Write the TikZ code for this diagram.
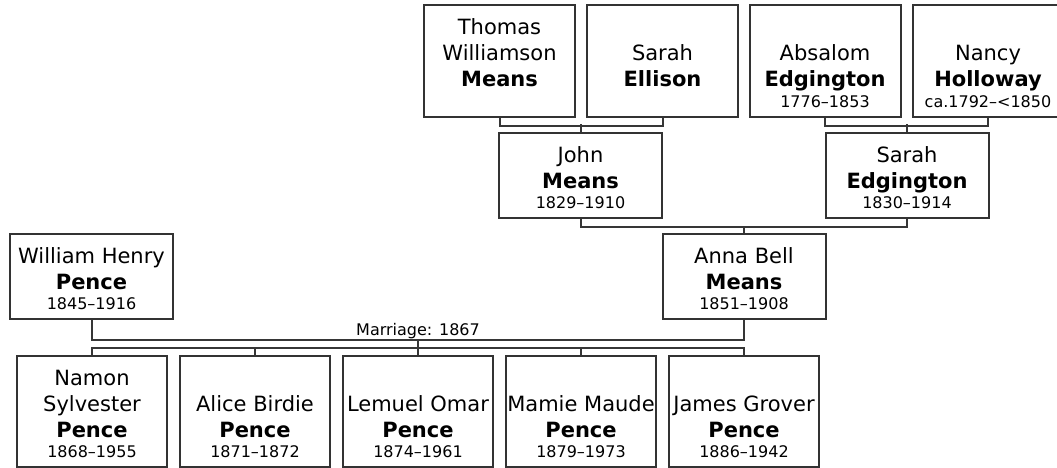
\documentclass[tikz,border=0pt]{standalone}
\usepackage{fontspec}
\setmainfont{DejaVu Sans}
\usetikzlibrary{calc}
\definecolor{boxline}{HTML}{333333}
\definecolor{conline}{HTML}{363636}
\tikzset{
  pbox/.style={draw=boxline, line width=2pt, fill=white, inner sep=0pt},
  topbox/.style={pbox, minimum width=151, minimum height=112},
  midbox/.style={pbox, minimum width=163, minimum height=85},
  kidbox/.style={pbox, minimum width=150, minimum height=111},
  namet/.style={anchor=base, inner sep=0pt, font=\fontsize{21}{26}\selectfont, text=black},
  datet/.style={anchor=base, inner sep=0pt, font=\fontsize{16}{19}\selectfont, text=black},
  con/.style={draw=conline, line width=2pt},
}
\newcommand\who[3]{%
  \node[namet] (#1-n) at ($(#1.south)+(0,-31)$) {\setlength{\tabcolsep}{0pt}\begin{tabular}[b]{c}#2\end{tabular}};
  \if\relax\detokenize{#3}\relax\else
  \node[datet] (#1-d) at ($(#1.south)+(0,-10.5)$) {#3};\fi}
\begin{document}
\begin{tikzpicture}[x=1pt,y=-1pt]
\fill[white] (0,0) rectangle (1057,468);
\useasboundingbox (0,0) rectangle (1057,468);
\clip (0,0) rectangle (1057,468);
% boxes
\node[topbox] (thomas) at (499.5,61) {};
\node[topbox] (sarahel) at (662.5,61) {};
\node[topbox] (absalom) at (825,61) {};
\node[topbox] (nancy) at (988,61) {};
\node[midbox] (john) at (580.5,175.5) {};
\node[midbox] (sarahed) at (907,175.5) {};
\node[midbox] (anna) at (744,276.5) {};
\node[midbox] (william) at (91.5,276.5) {};
\node[kidbox] (namon) at (92,411.5) {};
\node[kidbox] (alice) at (255,411.5) {};
\node[kidbox] (lemuel) at (418,411.5) {};
\node[kidbox] (mamie) at (581,411.5) {};
\node[kidbox] (james) at (744,411.5) {};
% texts
\who{thomas}{Thomas\\Williamson\\\textbf{Means}}{}
\who{sarahel}{Sarah\\\textbf{Ellison}}{}
\who{absalom}{Absalom\\\textbf{Edgington}}{1776–1853}
\who{nancy}{Nancy\\\textbf{Holloway}}{ca.1792–<1850}
\who{john}{John\\\textbf{Means}}{1829–1910}
\who{sarahed}{Sarah\\\textbf{Edgington}}{1830–1914}
\who{anna}{Anna Bell\\\textbf{Means}}{1851–1908}
\who{william}{William Henry\\\textbf{Pence}}{1845–1916}
\who{namon}{Namon\\Sylvester\\\textbf{Pence}}{1868–1955}
\who{alice}{Alice Birdie\\\textbf{Pence}}{1871–1872}
\who{lemuel}{Lemuel Omar\\\textbf{Pence}}{1874–1961}
\who{mamie}{Mamie Maude\\\textbf{Pence}}{1879–1973}
\who{james}{James Grover\\\textbf{Pence}}{1886–1942}
% connectors
\draw[con] (thomas.south) -- ++(0,8) -| (sarahel.south);
\draw[con] (john.north) -- ++(0,-8);
\draw[con] (absalom.south) -- ++(0,8) -| (nancy.south);
\draw[con] (sarahed.north) -- ++(0,-8);
\draw[con] (john.south) -- ++(0,8) -| (sarahed.south);
\draw[con] (anna.north) -- ++(0,-7);
\coordinate (mline) at (418,340);
\coordinate (kids) at (418,348);
\draw[con] (william.south) |- (mline) -| (anna.south);
\node[datet] (marr) at (418,335) {Marriage: 1867};
\draw[con] (mline) -- (kids);
\foreach \k in {namon,alice,lemuel,mamie,james}
  \draw[con] (\k.north) |- (kids);
\end{tikzpicture}
\end{document}
